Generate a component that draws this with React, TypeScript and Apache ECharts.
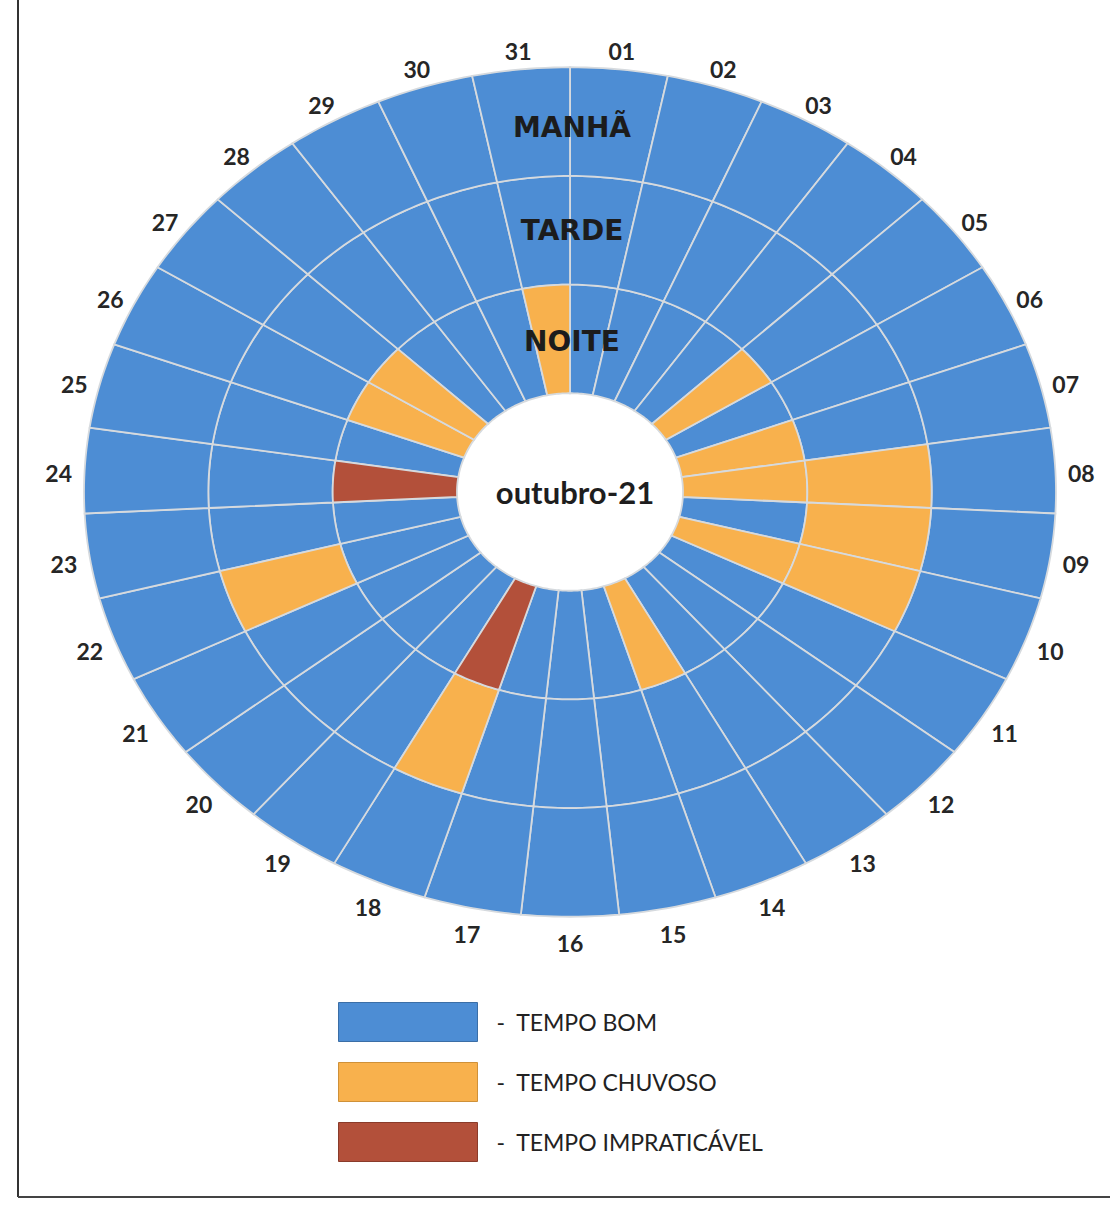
import React, { useEffect, useRef } from 'react';
import * as echarts from 'echarts';

// ---- data ----
const days = ['01', '02', '03', '04', '05', '06', '07', '08', '09', '10',
  '11', '12', '13', '14', '15', '16', '17', '18', '19', '20',
  '21', '22', '23', '24', '25', '26', '27', '28', '29', '30', '31'];
const periods = ['NOITE', 'TARDE', 'MANHÃ']; // inner -> outer ring
const weatherTypes = ['TEMPO BOM', 'TEMPO CHUVOSO', 'TEMPO IMPRATICÁVEL'];
// 0 = bom, 1 = chuvoso, 2 = impraticável (one code per day)
const noite = [0, 0, 0, 0, 1, 0, 1, 1, 0, 1, 0, 0, 0, 1, 0, 0, 0, 2, 0, 0, 0, 0, 0, 2, 0, 1, 1, 0, 0, 0, 1];
const tarde = [0, 0, 0, 0, 0, 0, 0, 1, 1, 1, 0, 0, 0, 0, 0, 0, 0, 1, 0, 0, 0, 1, 0, 0, 0, 0, 0, 0, 0, 0, 0];
const manha = [0, 0, 0, 0, 0, 0, 0, 0, 0, 0, 0, 0, 0, 0, 0, 0, 0, 0, 0, 0, 0, 0, 0, 0, 0, 0, 0, 0, 0, 0, 0];
const monthLabel = 'outubro-21';

// ---- styles ----
const weatherColors = ['#4d8dd4', '#f8b14d', '#b3503a'];
const weatherBorders = ['#3b6ea6', '#cf9139', '#8a3b2a'];
const GRID = '#d6dade';
const CX = 570;
const CY = 492;
const R0 = 113;
const R1 = 486;
const K = 0.874; // vertical squash of the (scanned) ellipse
const LABEL_R = 512;

const sq = (p: number[]) => [p[0], CY + (p[1] - CY) * K];

const renderCell = (params: any, api: any) => {
  const j = api.value(0);
  const i = api.value(1);
  const N = 12;
  const pts: number[][] = [];
  for (let s = 0; s <= N; s++) pts.push(sq(api.coord([j + 1, i + s / N])));
  for (let s = N; s >= 0; s--) pts.push(sq(api.coord([j, i + s / N])));
  return {
    type: 'polygon',
    shape: { points: pts },
    style: { fill: api.visual('color'), stroke: GRID, lineWidth: 1.8 },
  };
};

const renderDayLabel = (params: any, api: any) => {
  const i = api.value(1);
  const p = api.coord([3, i + 0.5]);
  const f = LABEL_R / R1;
  const x = CX + (p[0] - CX) * f;
  const y = CY + (p[1] - CY) * f * K + 4;
  return {
    type: 'text',
    x,
    y,
    style: {
      text: days[i],
      font: 'bold 23px Lato',
      fill: '#262626',
      align: 'center',
      verticalAlign: 'middle',
      textAlign: 'center',
      textVerticalAlign: 'middle',
    },
  };
};

const ringLabelOffset = [0.48, 1.5, 2.45];
const renderRingLabel = (params: any, api: any) => {
  const j = api.value(0);
  const p = sq(api.coord([ringLabelOffset[j], 0]));
  return {
    type: 'text',
    x: p[0] + 2,
    y: p[1],
    style: {
      text: periods[j],
      font: 'bold 28px "DejaVu Sans"',
      fill: '#1c1c1c',
      align: 'center',
      verticalAlign: 'middle',
      textAlign: 'center',
      textVerticalAlign: 'middle',
    },
  };
};

export default function App() {
  const ref = useRef<HTMLDivElement>(null);
  useEffect(() => {
    if (!ref.current) return;
    const chart = echarts.init(ref.current, undefined, { renderer: 'svg' });
    const rings = [noite, tarde, manha];
    const cellSeries = weatherTypes.map((name, w) => {
      const data: number[][] = [];
      rings.forEach((ring, j) => ring.forEach((v, i) => { if (v === w) data.push([j, i]); }));
      return {
        type: 'custom',
        name,
        coordinateSystem: 'polar',
        encode: { radius: 0, angle: 1 },
        itemStyle: { color: weatherColors[w] },
        data,
        renderItem: renderCell,
        silent: true,
      };
    });
    chart.setOption({
      animation: false,
      polar: { center: [CX, CY], radius: [R0, R1] },
      angleAxis: {
        type: 'value', min: 0, max: 31, startAngle: 90, clockwise: true,
        axisLine: { show: false }, axisTick: { show: false }, axisLabel: { show: false }, splitLine: { show: false },
      },
      radiusAxis: {
        type: 'value', min: 0, max: 3,
        axisLine: { show: false }, axisTick: { show: false }, axisLabel: { show: false }, splitLine: { show: false },
      },
      legend: {
        data: weatherTypes.map((n, w) => ({ name: n, itemStyle: { borderColor: weatherBorders[w], borderWidth: 1 } })),
        orient: 'vertical',
        left: 338,
        top: 1002,
        padding: 0,
        itemWidth: 139,
        itemHeight: 39,
        itemGap: 20,
        icon: 'rect',
        selectedMode: false,
        formatter: (n: string) => '-  ' + n,
        textStyle: { fontFamily: 'Lato', fontSize: 23, color: '#222', padding: [0, 0, 0, 14] },
      },
      graphic: [
        {
          type: 'text', x: CX + 5, y: CY,
          style: {
            text: monthLabel, font: 'bold 31px Lato', fill: '#1e1e1e',
            align: 'center', verticalAlign: 'middle', textAlign: 'center', textVerticalAlign: 'middle',
          },
        },
        { type: 'line', shape: { x1: 18, y1: 0, x2: 18, y2: 1197 }, style: { stroke: '#333', lineWidth: 2 } },
        { type: 'line', shape: { x1: 18, y1: 1197, x2: 1110, y2: 1197 }, style: { stroke: '#444', lineWidth: 2 } },
      ],
      series: [
        ...cellSeries,
        {
          type: 'custom', name: 'dias', coordinateSystem: 'polar', encode: { radius: 0, angle: 1 },
          data: days.map((d, i) => [3, i]), renderItem: renderDayLabel, silent: true,
        },
        {
          type: 'custom', name: 'periodos', coordinateSystem: 'polar', encode: { radius: 0, angle: 1 },
          data: periods.map((p, j) => [j, 0]), renderItem: renderRingLabel, silent: true,
        },
      ],
    });
    return () => chart.dispose();
  }, []);
  return (
    <div
      ref={ref}
      style={{ position: 'fixed', left: 0, top: 0, width: 1110, height: 1205, background: '#fff' }}
    />
  );
}
